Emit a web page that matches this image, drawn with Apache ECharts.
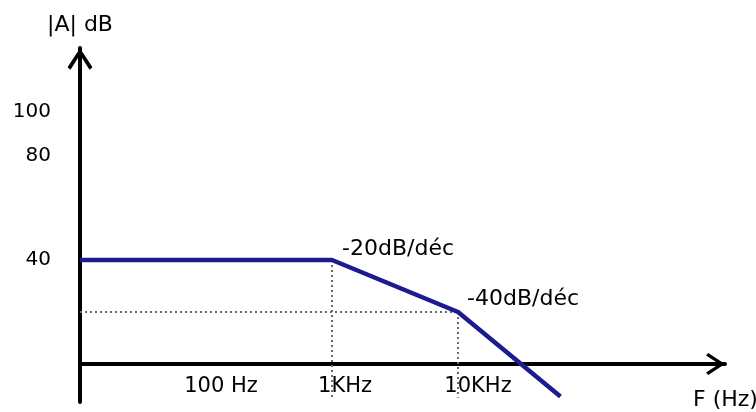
<!DOCTYPE html>
<html>
<head>
<meta charset="utf-8">
<script src="https://cdn.jsdelivr.net/npm/echarts@6/dist/echarts.min.js"></script>
<style>
html,body{margin:0;padding:0;background:#fff;}
#c{width:756px;height:412px;}
</style>
</head>
<body>
<div id="c"></div>
<script>
// Asymptotic Bode magnitude (frequency in Hz, gain in dB)
const bodeFreq = [10, 1000, 10000, 65000];
const bodeGain = [40, 40, 20, -12.5];
// Dotted guide lines
const guide1kFreq = [1000, 1000];
const guide1kGain = [40, -13];
const guide10kFreq = [10000, 10000];
const guide10kGain = [20, -13];
const guideHFreq = [10, 10000];
const guideHGain = [20, 20];
// Slope annotations
const slopeFreq = [1000, 10000];
const slopeGain = [40, 20];
const slopeText = ['-20dB/déc', '-40dB/déc'];
// Tick labels
const xTickValues = [100, 1000, 10000];
const xTickLabels = ['100 Hz', '1KHz', '10KHz'];
const yTickValues = [40, 80, 100];
const yTickLabels = ['40', '80', '100'];

const FONT = 'DejaVu Sans';
const TXT = '#000';
const zip = (a, b) => a.map((v, i) => [v, b[i]]);
const chevron = 'path://M12.5,0 L25,19 L22,21.5 L12.5,6.5 L3,21.5 L0,19 Z';

const chart = echarts.init(document.getElementById('c'));
const xShift = {'100 Hz': 'a', '1KHz': 'b', '10KHz': 'c'};
chart.setOption({
  animation: false,
  backgroundColor: '#fff',
  grid: {left: 80, right: 31, top: 48, bottom: 10, containLabel: false, outerBoundsMode: 'none'},
  xAxis: {
    type: 'log', logBase: 10, min: 10, max: 1315000,
    position: 'bottom', offset: -38,
    name: 'F (Hz)', nameLocation: 'end', nameGap: -32, nameMoveOverlap: false,
    nameTextStyle: {fontFamily: FONT, fontSize: 22, color: TXT, align: 'left', verticalAlign: 'top', lineHeight: 72},
    axisLine: {onZero: false, lineStyle: {color: '#000', width: 4}, symbol: ['none', chevron], symbolSize: [24, 19], symbolOffset: [0, -9.5]},
    axisTick: {show: false},
    splitLine: {show: false},
    minorSplitLine: {show: false},
    axisLabel: {
      customValues: xTickValues, margin: 12,
      fontFamily: FONT, fontSize: 21, color: TXT,
      formatter: v => { const i = xTickValues.indexOf(v); if (i < 0) return ''; const l = xTickLabels[i]; return '{' + xShift[l] + '|' + l + '}'; },
      rich: {
        a: {fontFamily: FONT, fontSize: 21, color: TXT, padding: [0, 0, 0, 30]},
        b: {fontFamily: FONT, fontSize: 21, color: TXT, padding: [0, 0, 0, 26]},
        c: {fontFamily: FONT, fontSize: 21, color: TXT, padding: [0, 0, 0, 40]}
      }
    }
  },
  yAxis: {
    type: 'value', min: -14.6, max: 121.5,
    name: '|A| dB', nameLocation: 'end', nameGap: 23, nameMoveOverlap: false,
    nameTextStyle: {fontFamily: FONT, fontSize: 22, color: TXT, align: 'center', verticalAlign: 'middle'},
    axisLine: {show: true, lineStyle: {color: '#000', width: 4}, symbol: ['none', chevron], symbolSize: [25, 22], symbolOffset: [0, -11]},
    axisTick: {show: false},
    splitLine: {show: false},
    axisLabel: {
      customValues: yTickValues, margin: 29,
      fontFamily: FONT, fontSize: 20, color: TXT,
      formatter: v => { const i = yTickValues.indexOf(v); if (i < 0) return ''; return v === 100 ? '{d|' + yTickLabels[i] + '}' : yTickLabels[i]; },
      rich: {d: {fontFamily: FONT, fontSize: 20, color: TXT, padding: [16, 0, 0, 0]}}
    }
  },
  series: [
    {type: 'line', data: zip(guide1kFreq, guide1kGain), symbol: 'none', silent: true,
     lineStyle: {color: '#6a6a6a', width: 2, type: [2, 3]}, z: 1},
    {type: 'line', data: zip(guide10kFreq, guide10kGain), symbol: 'none', silent: true,
     lineStyle: {color: '#6a6a6a', width: 2, type: [2, 3]}, z: 1},
    {type: 'line', data: zip(guideHFreq, guideHGain), symbol: 'none', silent: true,
     lineStyle: {color: '#6a6a6a', width: 2, type: [2, 3]}, z: 1},
    {type: 'line', data: zip(bodeFreq, bodeGain), symbol: 'none', silent: true,
     lineStyle: {color: '#1c1c90', width: 4.5}, z: 3},
    {type: 'scatter', silent: true, symbolSize: 0.01, itemStyle: {color: 'transparent', opacity: 1}, z: 4,
     data: slopeFreq.map((f, i) => ({
       value: [f, slopeGain[i]],
       label: {show: true, formatter: slopeText[i], position: 'right',
               offset: i === 0 ? [5, -11] : [4, -13],
               fontFamily: FONT, fontSize: 22, color: TXT, opacity: 1}
     }))}
  ]
});
</script>
</body>
</html>
